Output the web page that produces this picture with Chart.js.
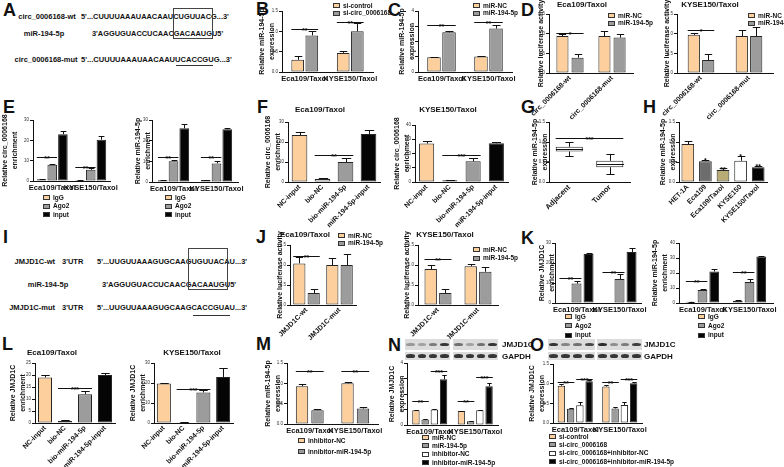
<!DOCTYPE html>
<html><head><meta charset="utf-8">
<script src="https://cdn.jsdelivr.net/npm/chart.js@4.4.1/dist/chart.umd.min.js"></script>
<style>
html,body{margin:0;padding:0;background:#fff}
#page{position:relative;width:784px;height:467px;overflow:hidden;font-family:"Liberation Sans",Arial,Helvetica,sans-serif;color:#111;background:#fff}
#page canvas{position:absolute;left:0;top:0}
.tx{position:absolute;white-space:pre;font-weight:bold;line-height:1}
.sw{position:absolute;width:7px;height:5px;border:1px solid #333;box-sizing:border-box}
.ln{position:absolute;background:#333}
.bx{position:absolute;border:1px solid #444;box-sizing:border-box}
.blot{position:absolute;background:#dcdcdc}
.band{position:absolute;border-radius:45%;filter:blur(0.6px)}
</style></head><body><div id="page"></div>
<script>
// ---------------- data ----------------
const taxolGroups=['Eca109/Taxol','KYSE150/Taxol'];
const circSites=['circ_0006168-wt','circ_0006168-mut'];
const jmjSites=['JMJD1C-wt','JMJD1C-mut'];
const pulldown=['NC-input','bio-NC','bio-miR-194-5p','miR-194-5p-input'];
const cellLines=['HET-1A','Eca109','Eca109/Taxol','KYSE150','KYSE150/Taxol'];
const tissues=['Adjacent','Tumor'];

const B_siControl=[0.30,0.47], B_siControlErr=[0.09,0.05];
const B_siCirc=[0.90,1.00], B_siCircErr=[0.10,0.20];
const C_miRNC=[0.97,1.02], C_miRNCErr=[0.03,0.05];
const C_miR194=[2.60,2.85], C_miR194Err=[0.12,0.20];
const D1_miRNC=[0.94,0.94], D1_miRNCErr=[0.04,0.14];
const D1_miR194=[0.39,0.90], D1_miR194Err=[0.10,0.10];
const D2_miRNC=[0.97,0.94], D2_miRNCErr=[0.05,0.15];
const D2_miR194=[0.33,0.94], D2_miR194Err=[0.15,0.23];
const E1_IgG=[0.8,0.5], E1_IgGErr=[0.1,0.1];
const E1_Ago2=[8.0,5.5], E1_Ago2Err=[0.4,0.7];
const E1_input=[23.0,20.3], E1_inputErr=[1.8,1.8];
const E2_IgG=[0.8,1.0], E2_IgGErr=[0.2,0.1];
const E2_Ago2=[10.0,9.0], E2_Ago2Err=[0.5,1.0];
const E2_input=[26.0,25.5], E2_inputErr=[2.0,0.8];
const F1_values=[23.5,1.5,10.0,24.0], F1_err=[1.5,0.3,2.0,2.0];
const F2_values=[27.0,1.2,14.5,27.2], F2_err=[2.0,0.2,2.0,1.0];
const G_min=[0.66,0.20], G_q1=[0.76,0.37], G_median=[0.82,0.46], G_q3=[0.88,0.53], G_max=[0.99,0.69];
const H_values=[0.95,0.52,0.30,0.53,0.37], H_err=[0.07,0.03,0.04,0.12,0.03], H_marks=['','*','**','*','**'];
const J1_miRNC=[1.04,1.00], J1_miRNCErr=[0.15,0.17];
const J1_miR194=[0.30,1.00], J1_miR194Err=[0.10,0.27];
const J2_miRNC=[0.90,0.97], J2_miRNCErr=[0.10,0.05];
const J2_miR194=[0.30,0.83], J2_miR194Err=[0.10,0.12];
const K1_IgG=[0.4,0.3], K1_IgGErr=[0,0];
const K1_Ago2=[9.7,12.0], K1_Ago2Err=[1.2,2.5];
const K1_input=[24.5,25.5], K1_inputErr=[0.5,2.0];
const K2_IgG=[0.8,1.5], K2_IgGErr=[0.2,0.4];
const K2_Ago2=[8.7,14.0], K2_Ago2Err=[0.4,2.0];
const K2_input=[21.0,31.0], K2_inputErr=[1.5,0.6];
const L1_values=[19.0,0.8,12.0,20.0], L1_err=[1.0,0.3,1.3,1.0];
const L2_values=[19.8,0.4,15.3,23.0], L2_err=[0.4,0.1,1.0,4.5];
const M_inhNC=[0.93,1.00], M_inhNCErr=[0.05,0.03];
const M_inhMiR=[0.34,0.38], M_inhMiRErr=[0.02,0.04];
const N_miRNC=[0.95,0.90], N_miRNCErr=[0.04,0.03];
const N_miR194=[0.35,0.25], N_miR194Err=[0.03,0.02];
const N_inhNC=[1.00,0.95], N_inhNCErr=[0.02,0.03];
const N_inhMiR=[2.95,2.50], N_inhMiRErr=[0.25,0.22];
const O_siControl=[0.95,0.93], O_siControlErr=[0.03,0.03];
const O_siCirc=[0.36,0.37], O_siCircErr=[0.02,0.03];
const O_siCircInhNC=[0.45,0.46], O_siCircInhNCErr=[0.08,0.07];
const O_siCircInhMiR=[1.06,1.01], O_siCircInhMiRErr=[0.03,0.02];
// western blot band intensities (lanes 1-4)
const N_blotJMJ_Eca=[0.35,0.30,0.50,0.85], N_blotJMJ_KYSE=[0.55,0.30,0.55,0.85];
const O_blotJMJ_Eca=[0.85,0.45,0.55,0.75], O_blotJMJ_KYSE=[0.90,0.40,0.50,0.80];
const blotGAPDH=[0.85,0.85,0.85,0.85];

// ---------------- styles ----------------
const ORANGE='#fccf9c', GRAY='#9c9c9c', BLACK='#050505', WHITE='#ffffff', DGRAY='#6d6d6d', OLIVE='#b8ac74';
const F='"Liberation Sans", Arial, Helvetica, sans-serif';
Chart.defaults.font.family=F;
const page=document.getElementById('page');

function T(s,x,y,size,al){const d=document.createElement('div');d.className='tx';d.textContent=s;d.style.fontSize=size+'px';d.style.left=x+'px';d.style.top=y+'px';
 d.style.transform=al==='c'?'translate(-50%,-50%)':(al==='r'?'translate(-100%,-50%)':'translateY(-50%)');page.appendChild(d);return d;}
function seq(s,x,y,w,size){const d=T(s,x,y,size);const aw=d.offsetWidth;d.style.transformOrigin='0 50%';d.style.transform='translateY(-50%) scaleX('+(w/aw)+')';return d;}
function box(x,y,w,h){const d=document.createElement('div');d.className='bx';Object.assign(d.style,{left:x+'px',top:y+'px',width:w+'px',height:h+'px'});page.appendChild(d);}
function hline(x,y,w){const d=document.createElement('div');d.className='ln';Object.assign(d.style,{left:x+'px',top:y+'px',width:w+'px',height:'1px'});page.appendChild(d);}
function legend(x,y,gap,items,size){items.forEach((it,i)=>{const s=document.createElement('div');s.className='sw';s.style.left=x+'px';s.style.top=(y+i*gap)+'px';s.style.background=it[1];page.appendChild(s);T(it[0],x+10,y+i*gap+2.5,size||6.5);});}
function blot(x,y,w,h,vals){const b=document.createElement('div');b.className='blot';Object.assign(b.style,{left:x+'px',top:y+'px',width:w+'px',height:h+'px'});page.appendChild(b);
 const lw=w/4;vals.forEach((v,i)=>{const d=document.createElement('div');d.className='band';Object.assign(d.style,{left:(lw*i+lw*0.12)+'px',top:(h/2-1.8)+'px',width:(lw*0.76)+'px',height:'3.6px',background:'rgba(25,25,25,'+v+')'});b.appendChild(d);});}

const errPlugin={id:'err',afterDatasetsDraw(chart){const ctx=chart.ctx,ys=chart.scales.y;ctx.save();ctx.strokeStyle='#111';ctx.lineWidth=1;
 chart.data.datasets.forEach((ds,i)=>{if(!ds.err)return;chart.getDatasetMeta(i).data.forEach((el,j)=>{const e=ds.err[j];if(!e)return;const v=ds.data[j];
  const y0=ys.getPixelForValue(v),y1=ys.getPixelForValue(v+e),x=Math.round(el.x)+0.5,w=el.width*0.3;const yc=Math.round(y1)+0.5;
  ctx.beginPath();ctx.moveTo(x,y0);ctx.lineTo(x,yc);ctx.moveTo(x-w,yc);ctx.lineTo(x+w,yc);ctx.stroke();});});ctx.restore();}};
function sigPlugin(list){return{id:'sig',afterDatasetsDraw(chart){const ctx=chart.ctx,ys=chart.scales.y;ctx.save();ctx.strokeStyle='#111';ctx.fillStyle='#111';ctx.lineWidth=1;ctx.font='bold 7px '+F;ctx.textAlign='center';ctx.textBaseline='alphabetic';
 list.forEach(s=>{const ea=chart.getDatasetMeta(s.a[0]).data[s.a[1]];const eb=s.b?chart.getDatasetMeta(s.b[0]).data[s.b[1]]:ea;const py=Math.round(ys.getPixelForValue(s.y))+0.5;
  const xl=ea.x-ea.width/2,xr=eb.x+eb.width/2;if(s.b){ctx.beginPath();ctx.moveTo(xl,py);ctx.lineTo(xr,py);ctx.stroke();}ctx.fillText(s.t,(xl+xr)/2,py+3);});ctx.restore();}};}
function boxPlugin(mn,md,mx){return{id:'box',afterDatasetsDraw(chart){const ctx=chart.ctx,ys=chart.scales.y,p=v=>Math.round(ys.getPixelForValue(v))+0.5;ctx.save();ctx.strokeStyle='#111';ctx.lineWidth=1;
 chart.getDatasetMeta(0).data.forEach((el,i)=>{const x=Math.round(el.x)+0.5,w=el.width;const top=Math.min(el.y,el.base),bot=Math.max(el.y,el.base);
  ctx.beginPath();ctx.moveTo(x-w/2,p(md[i]));ctx.lineTo(x+w/2,p(md[i]));ctx.moveTo(x,top);ctx.lineTo(x,p(mx[i]));ctx.moveTo(x,bot);ctx.lineTo(x,p(mn[i]));
  ctx.moveTo(x-w*0.15,p(mx[i]));ctx.lineTo(x+w*0.15,p(mx[i]));ctx.moveTo(x-w*0.15,p(mn[i]));ctx.lineTo(x+w*0.15,p(mn[i]));ctx.stroke();});ctx.restore();}};}

function mk(o){
 const cv=document.createElement('canvas');cv.width=784;cv.height=467;page.appendChild(cv);
 const dec=o.dec||0,rot=o.rot||0,XH=467-o.y1;
 return new Chart(cv,{type:'bar',
  data:{labels:o.labels,datasets:o.sets.map(s=>({data:s.data,err:s.err,backgroundColor:s.color,borderColor:'#262626',borderWidth:1,borderSkipped:false,categoryPercentage:o.cp,barPercentage:o.bp}))},
  options:{responsive:false,animation:false,events:[],devicePixelRatio:1,
   layout:{padding:{left:o.x0-o.yW,top:o.y0,right:784-o.x1,bottom:0}},
   plugins:{legend:{display:false},tooltip:{enabled:false}},
   scales:{
    x:{grid:{display:false,drawTicks:false,tickLength:0},border:{display:true,color:'#111',width:1},
      ticks:{autoSkip:false,maxRotation:rot,minRotation:rot,padding:o.xpad!=null?o.xpad:(rot?1:2),color:'#111',font:{family:F,size:o.xfs||7.5,weight:'bold'}},
      afterFit:s=>{s.height=XH;}},
    y:{min:0,max:o.max,grid:{display:true,drawOnChartArea:false,drawTicks:true,tickLength:3,color:'#111',lineWidth:1},
      border:{display:true,color:'#111',width:1},
      ticks:{stepSize:o.step,color:'#333',padding:1,font:{family:F,size:4.5},callback:v=>v.toFixed(dec)},
      title:{display:true,text:o.yt,color:'#111',padding:0,font:{family:F,size:7,weight:'bold',lineHeight:1.4}},
      afterFit:s=>{s.width=o.yW;}}
   }},
  plugins:[errPlugin,sigPlugin(o.sig||[])].concat(o.extra||[])
 });
}
const S2=(a,b)=>[{a:[0,0],b:[1,0],y:a,t:'**'},{a:[0,1],b:[1,1],y:b,t:'**'}];

// ---------------- panel letters ----------------
[['A',3,9.5],['B',256,9],['C',388,10],['D',521,10],['E',3,107],['F',257,107],['G',521,107],['H',643,107],
 ['I',3,237],['J',256,237],['K',521,238],['L',2,344],['M',256,344],['N',388,345],['O',530,345]].forEach(l=>T(l[0],l[1],l[2],18));

// ---------------- A & I sequences ----------------
T('circ_0006168-wt',47,17,7.5,'c'); seq("5'...CUUUUAAAUAACAAUCUGUUACG...3'",81,17,148,7.5);
T('miR-194-5p',44,34,7.5,'c'); seq("3'AGGUGUACCUCAACGACAAUGU5'",92,34,131,7.5);
T('circ_0006168-mut',46,60,7.5,'c'); seq("5'...CUUUUAAAUAACAAUUCACCGUG...3'",81,60,151,7.5);
box(173,8,40,31); hline(176,65,37);
T('JMJD1C-wt',55,262,7.5,'r'); T("3'UTR",62,262,7.5); seq("5'...UUGUUAAAGUGCAAGUGUUACAU...3'",97,262,150,7.5);
T('miR-194-5p',48,285,7.5,'c'); seq("3'AGGUGUACCUCAACGACAAUGU5'",102,285,134,7.5);
T('JMJD1C-mut',55,308,7.5,'r'); T("3'UTR",62,308,7.5); seq("5'...UUGUUAAAGUGCAAGCACCGUAU...3'",97,308,150,7.5);
box(188,248,40,42); hline(193,315,37);

// ---------------- B ----------------
mk({x0:282,x1:373,y0:11,y1:72,yW:25,max:1.5,step:0.5,dec:1,cp:0.62,bp:0.9,labels:taxolGroups,yt:['Relative miR-194-5p','expression'],
 sets:[{data:B_siControl,err:B_siControlErr,color:ORANGE},{data:B_siCirc,err:B_siCircErr,color:GRAY}],sig:S2(1.05,1.24)});
legend(333,3,7.5,[['si-control',ORANGE],['si-circ_0006168',GRAY]]);
// ---------------- C ----------------
mk({x0:418,x1:512,y0:11,y1:72,yW:21,max:4,step:1,cp:0.64,bp:0.9,labels:taxolGroups,yt:['Relative miR-194-5p','expression'],
 sets:[{data:C_miRNC,err:C_miRNCErr,color:ORANGE},{data:C_miR194,err:C_miR194Err,color:GRAY}],sig:S2(3.08,3.25)});
legend(473,3,7.5,[['miR-NC',ORANGE],['miR-194-5p',GRAY]]);
// ---------------- D ----------------
T('Eca109/Taxol',582,5,8,'c');
mk({x0:549,x1:633,y0:14,y1:73,yW:13,max:1.5,step:0.5,dec:1,cp:0.72,bp:0.8,rot:45,xfs:7,labels:circSites,yt:'Relative luciferase activity',
 sets:[{data:D1_miRNC,err:D1_miRNCErr,color:ORANGE},{data:D1_miR194,err:D1_miR194Err,color:GRAY}],sig:[{a:[0,0],b:[1,0],y:1.02,t:'*'}]});
legend(608,13,7.5,[['miR-NC',ORANGE],['miR-194-5p',GRAY]]);
T('KYSE150/Taxol',710,5,8,'c');
mk({x0:677,x1:773,y0:14,y1:73,yW:15,max:1.5,step:0.5,dec:1,cp:0.6,bp:0.85,rot:45,xfs:7,labels:circSites,yt:'Relative luciferase activity',
 sets:[{data:D2_miRNC,err:D2_miRNCErr,color:ORANGE},{data:D2_miR194,err:D2_miR194Err,color:GRAY}],sig:[{a:[0,0],b:[1,0],y:1.1,t:'*'}]});
legend(748,13,7.5,[['miR-NC',ORANGE],['miR-194-5p',GRAY]]);
// ---------------- E ----------------
const IAI=[['IgG',ORANGE],['Ago2',GRAY],['input',BLACK]];
mk({x0:33,x1:110,y0:120,y1:181,yW:33,max:30,step:10,cp:0.83,bp:0.9,labels:taxolGroups,yt:['Relative circ_0006168','enrichment'],
 sets:[{data:E1_IgG,err:E1_IgGErr,color:ORANGE},{data:E1_Ago2,err:E1_Ago2Err,color:GRAY},{data:E1_input,err:E1_inputErr,color:BLACK}],sig:S2(11.8,6.9)});
legend(43,195,8.5,IAI);
mk({x0:152,x1:238,y0:120,y1:182,yW:19,max:30,step:10,cp:0.75,bp:0.9,labels:taxolGroups,yt:['Relative miR-194-5p','enrichment'],
 sets:[{data:E2_IgG,err:E2_IgGErr,color:ORANGE},{data:E2_Ago2,err:E2_Ago2Err,color:GRAY},{data:E2_input,err:E2_inputErr,color:BLACK}],sig:S2(12,12)});
legend(165,195,8.5,IAI);
// ---------------- F ----------------
const PCOL=[ORANGE,WHITE,GRAY,BLACK];
T('Eca109/Taxol',320,110,8,'c');
mk({x0:288,x1:380,y0:122,y1:182,yW:25,max:30,step:10,cp:0.68,bp:1,rot:45,xfs:7,labels:pulldown,yt:['Relative circ_0006168','enrichment'],
 sets:[{data:F1_values,err:F1_err,color:PCOL}],sig:[{a:[0,1],b:[0,2],y:13.7,t:'**'}]});
T('KYSE150/Taxol',448,110,8,'c');
mk({x0:415,x1:508,y0:125,y1:182,yW:23,max:40,step:10,cp:0.65,bp:1,rot:45,xfs:7,labels:pulldown,yt:['Relative circ_0006168','enrichment'],
 sets:[{data:F2_values,err:F2_err,color:PCOL}],sig:[{a:[0,1],b:[0,2],y:19,t:'***'}]});
// ---------------- G ----------------
mk({x0:549,x1:630,y0:122,y1:182,yW:19,max:1.5,step:0.5,dec:1,cp:0.67,bp:1,rot:45,xfs:7.5,labels:tissues,yt:['Relative miR-194-5p','expression'],
 sets:[{data:G_q1.map((q,i)=>[q,G_q3[i]]),color:WHITE}],sig:[{a:[0,0],b:[0,1],y:1.1,t:'***'}],extra:[boxPlugin(G_min,G_median,G_max)]});
// ---------------- H ----------------
mk({x0:679,x1:767,y0:122,y1:182,yW:21,max:1.5,step:0.5,dec:1,cp:0.72,bp:1,rot:45,xfs:7,labels:cellLines,yt:['Relative miR-194-5p','expression'],
 sets:[{data:H_values,err:H_err,color:[ORANGE,DGRAY,OLIVE,WHITE,BLACK]}],
 sig:H_marks.map((m,i)=>({a:[0,i],y:H_values[i]+H_err[i]+0.02,t:m}))});
// ---------------- J ----------------
T('Eca109/Taxol',305,235,8,'c');
mk({x0:290,x1:356,y0:245,y1:305,yW:15,max:1.5,step:0.5,dec:1,cp:0.87,bp:0.85,rot:45,xfs:7,labels:jmjSites,yt:'Relative luciferase activity',
 sets:[{data:J1_miRNC,err:J1_miRNCErr,color:ORANGE},{data:J1_miR194,err:J1_miR194Err,color:GRAY}],sig:[{a:[0,0],b:[1,0],y:1.22,t:'**'}]});
legend(338,233,7.5,[['miR-NC',ORANGE],['miR-194-5p',GRAY]]);
T('KYSE150/Taxol',445,235,8,'c');
mk({x0:418,x1:498,y0:245,y1:305,yW:16,max:1.5,step:0.5,dec:1,cp:0.73,bp:0.85,rot:45,xfs:7,labels:jmjSites,yt:'Relative luciferase activity',
 sets:[{data:J2_miRNC,err:J2_miRNCErr,color:ORANGE},{data:J2_miR194,err:J2_miR194Err,color:GRAY}],sig:[{a:[0,0],b:[1,0],y:1.14,t:'**'}]});
legend(473,247,8.5,[['miR-NC',ORANGE],['miR-194-5p',GRAY]]);
// ---------------- K ----------------
mk({x0:555,x1:641,y0:243,y1:303,yW:18,max:30,step:10,cp:0.84,bp:0.83,labels:taxolGroups,yt:['Relative JMJD1C','enrichment'],
 sets:[{data:K1_IgG,err:K1_IgGErr,color:ORANGE},{data:K1_Ago2,err:K1_Ago2Err,color:GRAY},{data:K1_input,err:K1_inputErr,color:BLACK}],sig:S2(12.4,15.7)});
legend(565,314,9.3,IAI);
mk({x0:679,x1:773,y0:243,y1:303,yW:29,max:40,step:10,cp:0.75,bp:0.83,labels:taxolGroups,yt:['Relative miR-194-5p','enrichment'],
 sets:[{data:K2_IgG,err:K2_IgGErr,color:ORANGE},{data:K2_Ago2,err:K2_Ago2Err,color:GRAY},{data:K2_input,err:K2_inputErr,color:BLACK}],sig:S2(14.7,20.9)});
legend(698,314,9.3,IAI);
// ---------------- L ----------------
T('Eca109/Taxol',52,353,8,'c');
mk({x0:35,x1:115,y0:363,y1:423,yW:27,max:25,step:5,cp:0.7,bp:1,rot:45,xfs:7,labels:pulldown,yt:['Relative JMJD1C','enrichment'],
 sets:[{data:L1_values,err:L1_err,color:PCOL}],sig:[{a:[0,1],b:[0,2],y:14.6,t:'***'}]});
T('KYSE150/Taxol',192,353,8,'c');
mk({x0:154,x1:233,y0:363,y1:423,yW:26,max:30,step:10,cp:0.71,bp:1,rot:45,xfs:7,labels:pulldown,yt:['Relative JMJD1C','enrichment'],
 sets:[{data:L2_values,err:L2_err,color:PCOL}],sig:[{a:[0,1],b:[0,2],y:16.8,t:'***'}]});
// ---------------- M ----------------
mk({x0:287,x1:378,y0:363,y1:424,yW:24,max:1.5,step:0.5,dec:1,cp:0.68,bp:0.8,labels:taxolGroups,yt:['Relative miR-194-5p','expression'],
 sets:[{data:M_inhNC,err:M_inhNCErr,color:ORANGE},{data:M_inhMiR,err:M_inhMiRErr,color:GRAY}],sig:S2(1.31,1.31)});
legend(298,438,11,[['inhibitor-NC',ORANGE],['innibitor-miR-194-5p',GRAY]]);
// ---------------- N ----------------
blot(405,339,45,11,N_blotJMJ_Eca); blot(453,339,45,11,N_blotJMJ_KYSE);
blot(405,352,45,8,blotGAPDH); blot(453,352,45,8,blotGAPDH);
T('JMJD1C',502,345,8); T('GAPDH',502,357,8);
mk({x0:407,x1:498,y0:363,y1:425,yW:20,max:4,step:1,cp:0.81,bp:0.8,labels:taxolGroups,yt:['Relative JMJD1C','expression'],
 sets:[{data:N_miRNC,err:N_miRNCErr,color:ORANGE},{data:N_miR194,err:N_miR194Err,color:GRAY},{data:N_inhNC,err:N_inhNCErr,color:WHITE},{data:N_inhMiR,err:N_inhMiRErr,color:BLACK}],
 sig:[{a:[0,0],b:[1,0],y:1.56,t:'**'},{a:[2,0],b:[3,0],y:3.46,t:'***'},{a:[0,1],b:[1,1],y:1.56,t:'**'},{a:[2,1],b:[3,1],y:3.07,t:'***'}]});
legend(422,435,8.4,[['miR-NC',ORANGE],['miR-194-5p',GRAY],['inhibitor-NC',WHITE],['inhibitor-miR-194-5p',BLACK]]);
// ---------------- O ----------------
blot(548,339,47,11,O_blotJMJ_Eca); blot(597,339,45,11,O_blotJMJ_KYSE);
blot(548,352,47,8,blotGAPDH); blot(597,352,45,8,blotGAPDH);
T('JMJD1C',644,345,8); T('GAPDH',644,357,8);
mk({x0:553,x1:642,y0:364,y1:423,yW:26,max:1.5,step:0.5,dec:1,cp:0.83,bp:0.8,labels:taxolGroups,yt:['Relative JMJD1C','expression'],
 sets:[{data:O_siControl,err:O_siControlErr,color:ORANGE},{data:O_siCirc,err:O_siCircErr,color:GRAY},{data:O_siCircInhNC,err:O_siCircInhNCErr,color:WHITE},{data:O_siCircInhMiR,err:O_siCircInhMiRErr,color:BLACK}],
 sig:[{a:[0,0],b:[1,0],y:1.04,t:'**'},{a:[2,0],b:[3,0],y:1.12,t:'***'},{a:[0,1],b:[1,1],y:1.04,t:'**'},{a:[2,1],b:[3,1],y:1.12,t:'***'}]});
legend(549,434,8.4,[['si-control',ORANGE],['si-circ_0006168',GRAY],['si-circ_0006168+inhibitor-NC',WHITE],['si-circ_0006168+inhibitor-miR-194-5p',BLACK]]);
</script></body></html>
